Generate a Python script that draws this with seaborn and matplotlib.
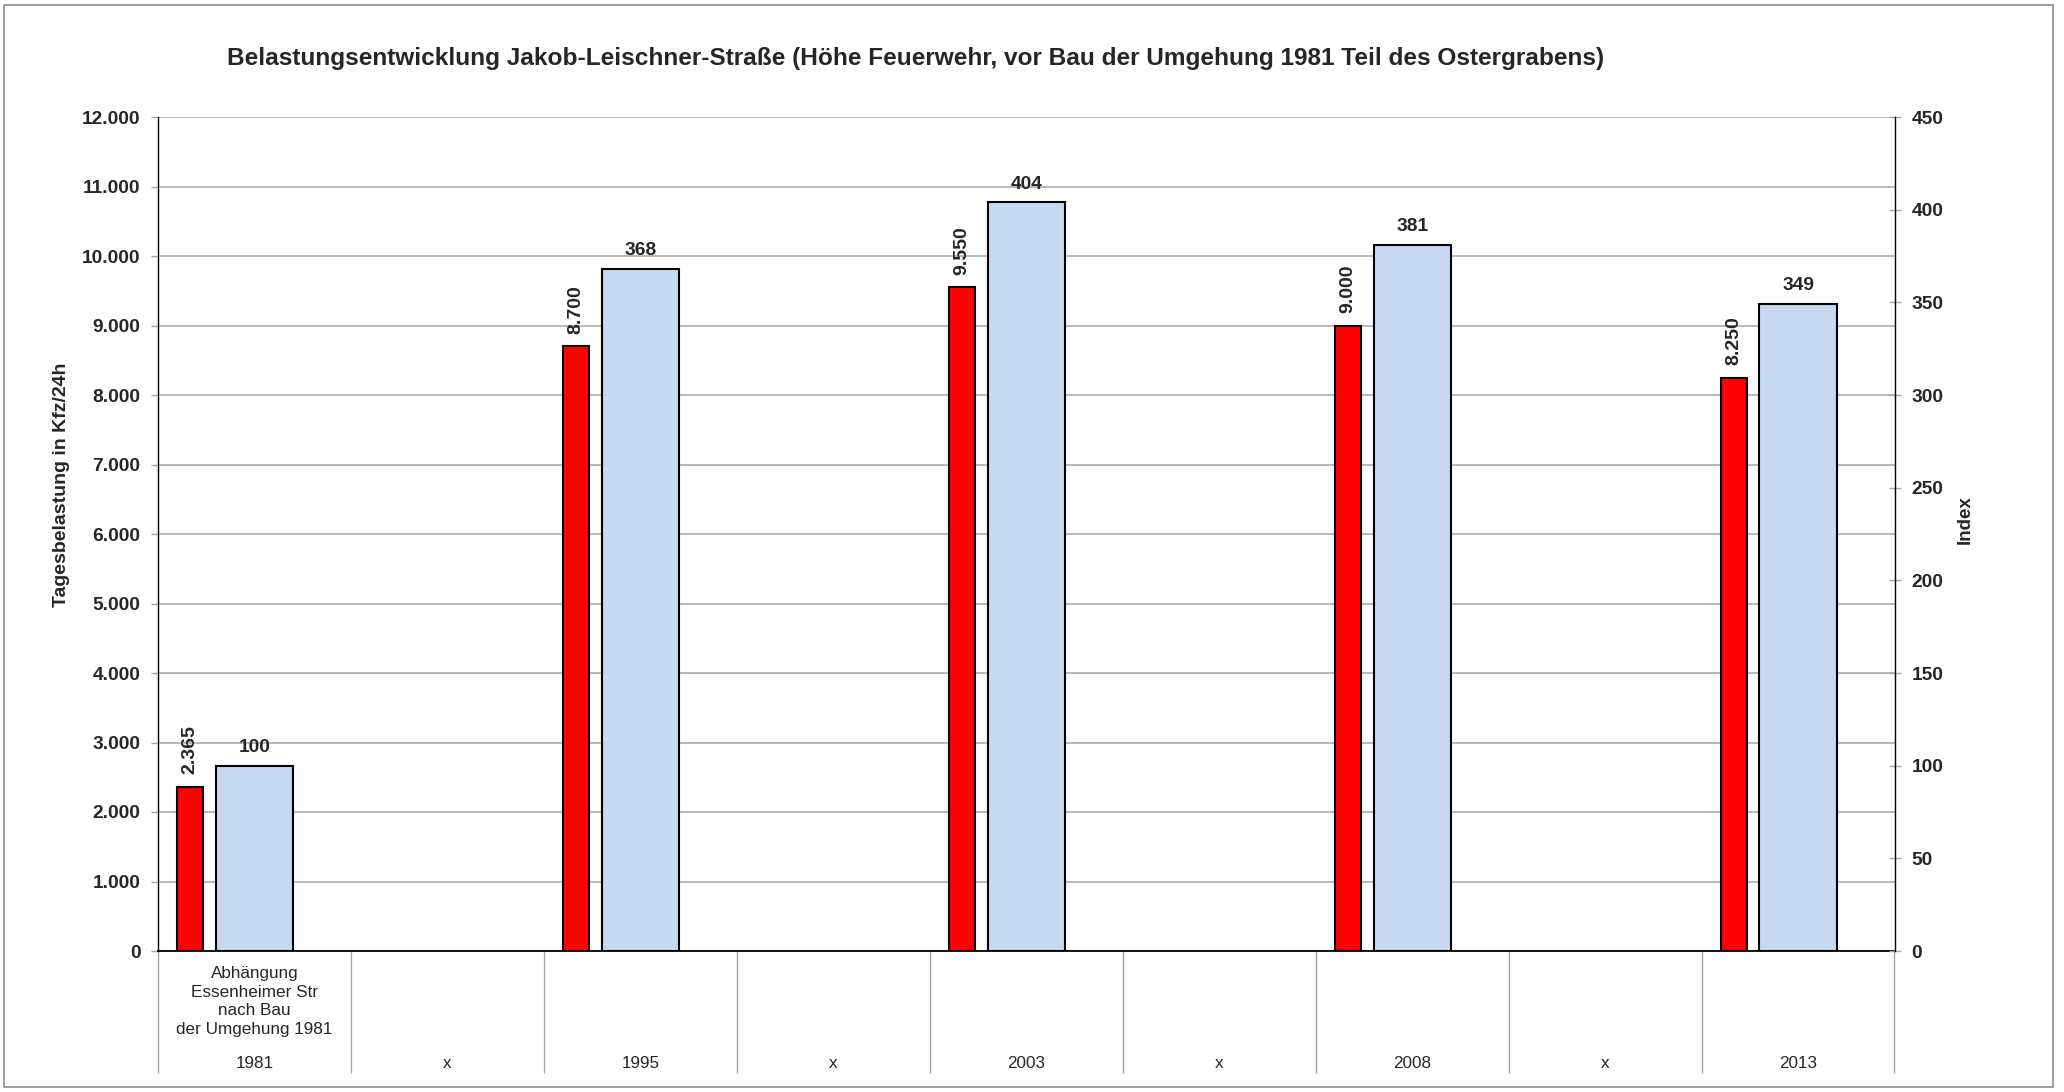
import numpy as np
import pandas as pd
import matplotlib
matplotlib.use("Agg")
import matplotlib.pyplot as plt
import seaborn as sns
from matplotlib.patches import Rectangle
from matplotlib.ticker import MultipleLocator, FixedLocator, FuncFormatter

# ---------------- data ----------------
categories = ["1981", "x", "1995", "x", "2003", "x", "2008", "x", "2013"]
first_category_note = "Abhängung\nEssenheimer Str\nnach Bau\nder Umgehung 1981"
measured_years = ["1981", "1995", "2003", "2008", "2013"]
daily_load = [2365, 8700, 9550, 9000, 8250]      # Tagesbelastung Kfz/24h
index_values = [100, 368, 404, 381, 349]          # Index (1981 = 100)

title = ("Belastungsentwicklung Jakob-Leischner-Straße (Höhe Feuerwehr, "
         "vor Bau der Umgehung 1981 Teil des Ostergrabens)")
ylabel_left = "Tagesbelastung in Kfz/24h"
ylabel_right = "Index"

# ---------------- style ----------------
sns.set_style("white")
plt.rcParams["font.family"] = ["Liberation Sans", "DejaVu Sans"]
plt.rcParams["font.weight"] = "bold"

W, H = 2064, 1092
fig = plt.figure(figsize=(W / 100, H / 100), dpi=100)
fig.patch.set_facecolor("white")

ax_l, ax_r, ax_t, ax_b = 158, 1894.5, 117, 951
ax = fig.add_axes([ax_l / W, 1 - ax_b / H, (ax_r - ax_l) / W, (ax_b - ax_t) / H])

pos = [i for i, c in enumerate(categories) if c != "x"]
df = pd.DataFrame({
    "year": measured_years,
    "pos": pos,
    "load": daily_load,
    "index": index_values,
})
df["pos_load"] = df["pos"] - 1 / 3

RED = "#FF0000"
BLUE = "#C6D9F1"
GRID = "#A6A6A6"

sns.barplot(data=df, x="pos_load", y="load", native_scale=True,
            width=0.135 / 2, color=RED, saturation=1, edgecolor="black",
            linewidth=1.5, errorbar=None, ax=ax, zorder=3)

ax2 = ax.twinx()
sns.barplot(data=df, x="pos", y="index", native_scale=True,
            width=0.40 / 2, color=BLUE, saturation=1, edgecolor="black",
            linewidth=1.5, errorbar=None, ax=ax2, zorder=3)

# ---------------- axes ----------------
thousands = FuncFormatter(lambda v, p: f"{v:,.0f}".replace(",", "."))

ax.set_xlim(-0.5, len(categories) - 0.5)
ax.set_ylim(0, 12000)
ax.yaxis.set_major_locator(MultipleLocator(1000))
ax.yaxis.set_major_formatter(thousands)
ax2.set_ylim(0, 450)
ax2.yaxis.set_major_locator(MultipleLocator(50))

ax.set_xlabel("")
ax.set_ylabel("")
ax2.set_xlabel("")
ax2.set_ylabel("")

ax.grid(axis="y", color=GRID, lw=1.1)
ax.grid(axis="x", visible=False)
ax2.grid(False)
ax.set_axisbelow(True)

ax.set_xticks([])
ax.xaxis.set_minor_locator(FixedLocator(np.arange(-0.5, len(categories), 1.0)))
ax.tick_params(axis="x", which="minor", bottom=True, length=88, width=1,
               color=GRID, direction="out", labelbottom=False)
ax.tick_params(axis="y", which="major", direction="out", length=5, width=1,
               color=GRID, pad=7.6, labelsize=13.8, left=True)
ax2.tick_params(axis="y", which="major", direction="inout", length=9, width=1,
                color=GRID, pad=7.8, labelsize=13.8, right=True)

for s in ["top", "right"]:
    ax.spines[s].set_visible(False)
ax.spines["left"].set_color("black")
ax.spines["left"].set_linewidth(1.0)
ax.spines["bottom"].set_color("black")
ax.spines["bottom"].set_linewidth(1.3)
for s in ["top", "left", "bottom"]:
    ax2.spines[s].set_visible(False)
ax2.spines["right"].set_color("black")
ax2.spines["right"].set_linewidth(1.0)

# ---------------- labels ----------------
fmt = lambda v: f"{v:,.0f}".replace(",", ".")
ax.bar_label(ax.containers[0], fmt=fmt, rotation=90, padding=9,
             fontsize=14, fontweight="bold")
ax2.bar_label(ax2.containers[0], fmt=fmt, padding=7,
              fontsize=13.8, fontweight="bold")

for i, c in enumerate(categories):
    ax.annotate(c, xy=(i, 0), xycoords=("data", "axes fraction"),
                xytext=(0, -112 * 0.72), textcoords="offset points",
                ha="center", va="center", fontsize=12.3, fontweight="normal")
ax.annotate(first_category_note, xy=(pos[0], 0),
            xycoords=("data", "axes fraction"),
            xytext=(0, -50.5 * 0.72), textcoords="offset points",
            ha="center", va="center", fontsize=12.3, fontweight="normal",
            linespacing=1.32, multialignment="center")

fig.text(916 / W, 1 - 58 / H, title, ha="center", va="center",
         fontsize=17.6, fontweight="bold")
fig.text(61 / W, 1 - 485 / H, ylabel_left, rotation=90, ha="center",
         va="center", fontsize=14, fontweight="bold")
fig.text(1965 / W, 1 - 520 / H, ylabel_right, rotation=90, ha="center",
         va="center", fontsize=13.5, fontweight="bold")

fig.add_artist(Rectangle((4 / W, 5 / H), (2053 - 4) / W, (1087 - 5) / H,
                         transform=fig.transFigure, fill=False,
                         edgecolor="#8C8C8C", lw=1.2))

fig.savefig("out.png", dpi=100, facecolor="white")
